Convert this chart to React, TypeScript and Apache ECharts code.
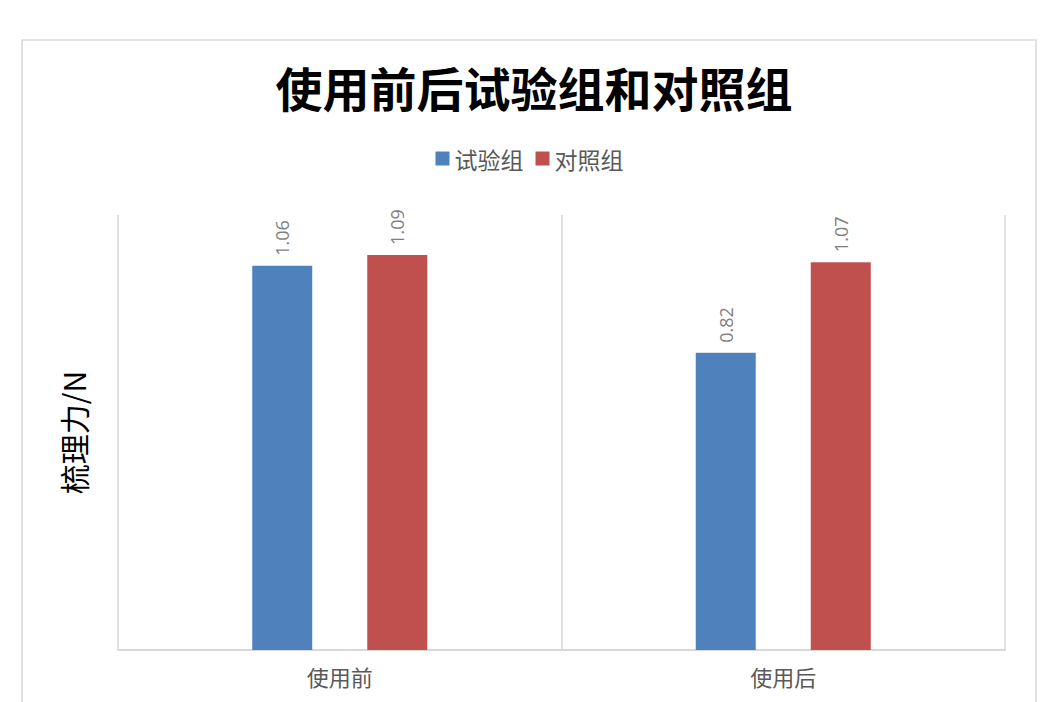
import React, { useEffect, useRef } from "react";
import * as echarts from "echarts";

const categories = ["使用前", "使用后"];
const seriesNames = ["试验组", "对照组"];
const testGroup = [1.06, 0.82];
const controlGroup = [1.09, 1.07];
const colors = ["#4F81BD", "#C0504D"];

export default function App() {
  const ref = useRef<HTMLDivElement>(null);
  useEffect(() => {
    const chart = echarts.init(ref.current!, null, { renderer: "svg" });
    const labelCfg = {
      show: true,
      position: "top",
      rotate: 90,
      align: "left",
      verticalAlign: "middle",
      distance: 10,
      color: "#7f7f7f",
      fontSize: 18,
      fontFamily: "Open Sans",
      formatter: (p: any) => p.value.toFixed(2),
    };
    chart.setOption({
      animation: false,
      backgroundColor: "#ffffff",
      title: {
        text: "使用前后试验组和对照组",
        left: 529,
        textAlign: "center",
        top: 58,
        textStyle: {
          fontSize: 47,
          fontWeight: "bold",
          color: "#000000",
          fontFamily: "Noto Sans CJK SC",
        },
      },
      legend: {
        data: seriesNames,
        top: 142,
        left: "center",
        itemWidth: 14,
        itemHeight: 14,
        itemGap: 12,
        icon: "rect",
        textStyle: {
          fontSize: 23,
          color: "#595959",
          fontFamily: "Noto Sans CJK SC",
        },
      },
      graphic: [
        {
          type: "rect",
          shape: { x: 22, y: 40, width: 1014, height: 680 },
          style: { fill: "none", stroke: "#d9d9d9", lineWidth: 1.5 },
          silent: true,
        },
      ],
      grid: { left: 118, right: 54, top: 215, bottom: 52 },
      xAxis: {
        type: "category",
        data: categories,
        axisLine: { show: true, lineStyle: { color: "#d9d9d9", width: 2 } },
        axisTick: { show: false },
        splitLine: { show: true, lineStyle: { color: "#d9d9d9", width: 1.5 } },
        axisLabel: {
          color: "#595959",
          fontSize: 22,
          margin: 15,
          fontFamily: "Noto Sans CJK SC",
        },
      },
      yAxis: {
        type: "value",
        min: 0,
        max: 1.2,
        name: "梳理力/N",
        nameLocation: "middle",
        nameGap: 30,
        nameRotate: 90,
        nameTextStyle: {
          fontSize: 30,
          color: "#000000",
          fontFamily: "Noto Sans CJK SC",
        },
        axisLine: { show: false },
        axisTick: { show: false },
        axisLabel: { show: false },
        splitLine: { show: false },
      },
      series: [
        {
          name: seriesNames[0],
          type: "bar",
          data: testGroup,
          barWidth: 60,
          barGap: "91.7%",
          itemStyle: { color: colors[0] },
          label: labelCfg,
        },
        {
          name: seriesNames[1],
          type: "bar",
          data: controlGroup,
          barWidth: 60,
          itemStyle: { color: colors[1] },
          label: labelCfg,
        },
      ],
    });
    return () => chart.dispose();
  }, []);
  return (
    <div
      ref={ref}
      style={{ position: "fixed", left: 0, top: 0, width: 1059, height: 702 }}
    />
  );
}
